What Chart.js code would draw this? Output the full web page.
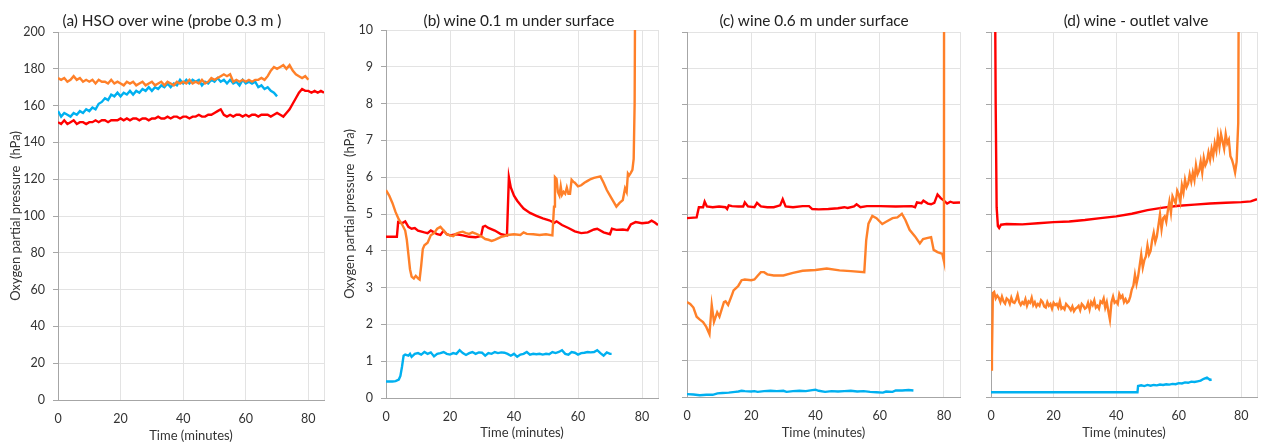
<!DOCTYPE html>
<html>
<head>
<meta charset="utf-8">
<script src="https://cdn.jsdelivr.net/npm/chart.js@4.4.1/dist/chart.umd.min.js"></script>
<style>
  html, body { margin:0; padding:0; background:#ffffff; }
  #wrap { position:relative; width:1268px; height:443px; background:#ffffff; overflow:hidden; }
  canvas { position:absolute; top:0; }
  .ttl { position:absolute; top:10px; font-family:Lato, "Open Sans", sans-serif; font-size:15.4px; color:#222; white-space:pre; transform:translateX(-50%); line-height:20px; }
</style>
</head>
<body>
<div id="wrap">
  <canvas id="ca" width="335" height="443" style="left:0px;width:335px;height:443px"></canvas>
  <canvas id="cb" width="334" height="443" style="left:335px;width:334px;height:443px"></canvas>
  <canvas id="cc" width="302" height="443" style="left:669px;width:302px;height:443px"></canvas>
  <canvas id="cd" width="297" height="443" style="left:971px;width:297px;height:443px"></canvas>
  <div class="ttl" style="left:172px">(a) HSO over wine (probe 0.3 m )</div>
  <div class="ttl" style="left:519px">(b) wine 0.1 m under surface</div>
  <div class="ttl" style="left:814px">(c) wine 0.6 m under surface</div>
  <div class="ttl" style="left:1136px">(d) wine - outlet valve</div>
</div>
<script>
// ---------- data ----------
const panelTitles = ["(a) HSO over wine (probe 0.3 m )", "(b) wine 0.1 m under surface", "(c) wine 0.6 m under surface", "(d) wine - outlet valve"];
const xTitle = "Time (minutes)";
const yTitle = "Oxygen partial pressure  (hPa)";
const xTicks = [0, 20, 40, 60, 80];
const xMax = 85;
const yTicksA = [0, 20, 40, 60, 80, 100, 120, 140, 160, 180, 200];
const yTicksB = [0, 1, 2, 3, 4, 5, 6, 7, 8, 9, 10];

// panel (a): one reading per minute
const minutes = [0,1,2,3,4,5,6,7,8,9,10,11,12,13,14,15,16,17,18,19,20,21,22,23,24,25,26,27,28,29,30,31,32,33,34,35,36,37,38,39,40,41,42,43,44,45,46,47,48,49,50,51,52,53,54,55,56,57,58,59,60,61,62,63,64,65,66,67,68,69,70,71,72,73,74,75,76,77,78,79,80,81,82,83,84,85];
const aRed = [151,150,152,150,151,152,150,151,151,150,
  151,151,152,151,152,152,151,152,152,152,
  153,152,153,152,153,153,152,153,153,152,
  153,153,154,153,153,154,153,154,154,153,
  154,154,153,154,154,155,154,154,155,155,
  156,157,158,155,154,155,154,155,155,154,
  155,154,155,155,154,155,155,155,154,155,
  156,155,154,156,158,161,164,167,169,168,
  168,167,168,167,168,167];
const aBlue = [157,154,156,155,154,156,155,157,156,158,
  157,159,158,161,162,164,163,166,165,167,
  165,167,166,168,166,168,167,169,168,170,
  168,170,169,171,170,172,170,172,171,174,
  172,174,172,174,173,174,171,173,172,174,
  173,175,173,174,172,174,172,173,171,174,
  172,173,172,173,170,171,169,170,168,167,
  165];
const aOrange = [175,174,175,173,174,176,174,175,173,174,
  173,174,172,174,173,173,172,174,172,173,
  172,171,173,172,173,171,172,173,171,172,
  173,171,172,173,171,173,172,171,173,172,
  173,172,174,172,173,172,174,172,173,175,
  174,175,176,177,176,177,173,174,173,174,
  173,174,173,174,174,175,174,176,179,181,
  180,181,182,180,182,179,177,176,175,176,
  174];

// panel (b): [minute, hPa]
const bRed = [[0,4.38],[3.4,4.38],[3.8,4.78],[5,4.75],[6,4.8],[7,4.65],[8,4.6],[9,4.62],[10,4.55],[12,4.5],[13,4.48],[14,4.55],[15,4.5],[16,4.45],[17,4.43],[18,4.55],[19,4.45],[20,4.42],[22,4.45],[24,4.42],[26,4.38],[28,4.37],[29.7,4.4],[30.3,4.65],[31,4.68],[32,4.62],[34,4.55],[36,4.45],[37.8,4.42],[38.4,6.0],[39,5.72],[40,5.5],[41,5.36],[42,5.25],[43,5.15],[45,5.03],[47,4.95],[49,4.88],[51,4.83],[52.6,4.76],[53.3,4.8],[55,4.7],[57,4.62],[59,4.53],[61,4.48],[63,4.5],[65,4.58],[66,4.6],[68,4.5],[70,4.45],[70.6,4.6],[72,4.57],[74,4.58],[75.5,4.56],[76.5,4.72],[78,4.78],[80,4.75],[82,4.77],[83,4.82],[84,4.77],[85,4.7]];
const bOrange = [[0,5.65],[1,5.5],[2,5.3],[3,5.05],[4,4.85],[5,4.72],[6,4.55],[6.5,4.3],[7,3.9],[7.5,3.5],[8,3.3],[8.7,3.25],[9.3,3.32],[10,3.25],[10.5,3.22],[11,3.6],[11.5,4.05],[12,4.15],[13,4.22],[14,4.42],[15,4.48],[16,4.6],[17,4.65],[18,4.55],[19,4.45],[20,4.42],[21,4.4],[22,4.47],[23,4.5],[24,4.52],[25,4.48],[26,4.46],[27,4.5],[28,4.47],[29,4.43],[30,4.38],[31,4.32],[32,4.3],[33,4.27],[34,4.3],[35,4.34],[36,4.38],[37,4.4],[38,4.43],[40,4.45],[42,4.43],[43,4.5],[44,4.46],[46,4.45],[48,4.43],[50,4.45],[52,4.42],[52.5,5.2],[52.8,6.0],[53.3,5.95],[53.7,5.6],[54.2,5.5],[54.6,5.75],[55,5.52],[55.5,5.6],[56,5.55],[56.5,5.72],[57,5.55],[57.5,5.55],[58,5.93],[58.5,5.88],[59,5.85],[60,5.75],[61,5.78],[62,5.85],[63,5.9],[64,5.95],[65,5.98],[66,6.0],[67,6.02],[68,5.85],[69,5.65],[70,5.5],[71,5.35],[72,5.2],[73,5.3],[74,5.38],[74.7,5.7],[75.2,5.6],[75.6,6.1],[76,6.05],[76.5,6.12],[77,6.2],[77.4,6.5],[77.7,8.0],[78,14]];
const bBlue = [[0,0.45],[1,0.45],[2,0.45],[3,0.46],[4,0.5],[4.5,0.6],[5,0.85],[5.5,1.15],[6,1.18],[7,1.15],[7.5,1.2],[8,1.12],[9,1.2],[10,1.22],[11,1.18],[12,1.25],[13,1.2],[14,1.24],[15,1.13],[16,1.2],[17,1.22],[18,1.25],[19,1.2],[20,1.18],[21,1.22],[22,1.2],[23,1.3],[24,1.22],[25,1.17],[26,1.22],[27,1.25],[28,1.2],[29,1.24],[30,1.23],[31,1.15],[32,1.22],[33,1.2],[34,1.25],[35,1.22],[36,1.24],[37,1.23],[38,1.2],[39,1.15],[40,1.2],[41,1.12],[42,1.18],[43,1.2],[44,1.25],[45,1.18],[46,1.2],[47,1.19],[48,1.2],[49,1.18],[50,1.2],[51,1.19],[52,1.25],[53,1.22],[54,1.25],[55,1.3],[56,1.2],[57,1.18],[58,1.25],[59,1.23],[60,1.18],[61,1.22],[62,1.23],[63,1.25],[64,1.24],[65,1.25],[66,1.3],[67,1.22],[68,1.15],[69,1.24],[70,1.2],[70.5,1.2]];

// panel (c): [minute, hPa]
const cRed = [[0,4.9],[3,4.92],[3.7,5.2],[5,5.2],[5.5,5.35],[6.2,5.22],[8,5.2],[10,5.22],[12,5.2],[12.5,5.15],[13,5.25],[14,5.23],[16,5.22],[17.5,5.22],[18,5.33],[19,5.22],[21,5.2],[21.8,5.32],[23,5.22],[25,5.2],[27,5.2],[29,5.25],[29.8,5.42],[30.7,5.22],[33,5.2],[36,5.23],[38,5.23],[39,5.15],[41,5.14],[44,5.15],[47,5.17],[49,5.2],[50,5.18],[52,5.22],[52.8,5.28],[54,5.2],[56,5.23],[60,5.23],[65,5.22],[70,5.23],[71,5.2],[71.6,5.33],[73,5.31],[73.6,5.38],[75,5.3],[76,5.28],[77,5.32],[78,5.55],[79,5.45],[80,5.38],[81,5.3],[82,5.35],[83,5.32],[85,5.33]];
const cOrange = [[0,2.6],[1,2.55],[2,2.45],[3,2.2],[4,2.12],[5,2.05],[6,1.92],[7,1.72],[7.7,2.52],[8.4,2.06],[9.4,2.32],[10.1,2.2],[11.5,2.6],[12,2.62],[12.8,2.52],[14,2.8],[14.5,2.92],[15.5,3.0],[16,3.05],[17,3.2],[18,3.22],[20,3.2],[21,3.22],[22,3.32],[23,3.42],[24,3.42],[25,3.36],[27,3.33],[30,3.33],[33,3.4],[36,3.46],[40,3.48],[43.5,3.52],[47.5,3.47],[51,3.45],[55.2,3.42],[55.8,4.3],[56.5,4.75],[57.7,4.96],[59,4.9],[60.8,4.74],[62,4.8],[64,4.9],[65.5,4.92],[66.9,5.02],[68,4.85],[69.3,4.58],[71,4.4],[72.5,4.21],[73.5,4.33],[75,4.36],[76,4.38],[76.8,4.03],[78,3.97],[79.5,3.92],[80,3.72],[80.05,14]];
const cBlue = [[0,0.08],[2,0.07],[4,0.05],[6,0.06],[8,0.06],[9.5,0.1],[11,0.11],[13,0.12],[15,0.14],[16,0.15],[17,0.17],[18,0.16],[20,0.15],[21,0.16],[22,0.14],[24,0.16],[26,0.17],[28,0.16],[30,0.17],[31,0.14],[33,0.16],[35,0.17],[37,0.16],[39,0.19],[40,0.2],[41,0.17],[43,0.14],[45,0.16],[47,0.15],[49,0.16],[51,0.17],[53,0.15],[55,0.16],[57,0.14],[59,0.13],[61,0.12],[62,0.15],[64,0.14],[65,0.18],[67,0.18],[69,0.19],[70.5,0.18]];

// panel (d): [minute, hPa]
const dRed = [[1.1,14],[1.5,8],[1.8,5.2],[2.2,4.68],[2.6,4.63],[3.2,4.72],[5,4.74],[10,4.73],[15,4.76],[20,4.79],[25,4.81],[30,4.85],[35,4.9],[40,4.95],[45,5.02],[50,5.12],[55,5.19],[60,5.24],[65,5.27],[70,5.3],[75,5.32],[80,5.34],[83,5.36],[85,5.42]];
const dOrange = [[0,0.75],[0.3,1.1],[0.6,2.85],
  [1,2.88],[1.5,2.7],[2,2.78],[2.5,2.72],[3,2.6],[3.5,2.75],[4,2.62],[4.5,2.56],[5,2.7],[5.5,2.66],
  [6,2.55],[6.5,2.72],[7,2.6],[7.5,2.58],[8,2.66],[8.5,2.8],[9,2.6],[9.5,2.52],[10,2.6],[10.5,2.55],
  [11,2.68],[11.5,2.5],[12,2.62],[12.5,2.58],[13,2.72],[13.5,2.52],[14,2.6],[14.5,2.48],[15,2.55],[15.5,2.5],
  [16,2.65],[16.5,2.6],[17,2.48],[17.5,2.45],[18,2.6],[18.5,2.5],[19,2.55],[19.5,2.42],[20,2.58],[20.5,2.52],
  [21,2.55],[21.5,2.45],[22,2.62],[22.5,2.42],[23,2.46],[23.5,2.4],[24,2.55],[24.5,2.5],[25,2.45],[25.5,2.38],
  [26,2.48],[26.5,2.35],[27,2.42],[27.5,2.45],[28,2.5],[28.5,2.38],[29,2.55],[29.5,2.5],[30,2.42],[30.5,2.45],
  [31,2.58],[31.5,2.4],[32,2.6],[32.5,2.52],[33,2.65],[33.5,2.45],[34,2.5],[34.5,2.42],[35,2.62],[35.5,2.58],
  [36,2.7],[36.5,2.45],[37,2.6],[37.5,2.35],[38,2.12],[38.5,2.6],[39,2.75],[39.5,2.58],[40,2.62],[40.5,2.55],
  [41,2.82],[41.5,2.72],[42,2.78],[42.5,2.6],[43,2.68],[43.5,2.58],[44,2.62],[44.5,2.75],[45,2.95],[45.5,3.05],
  [46,3.35],[46.5,3.1],[47,3.3],[47.5,3.6],[48,3.9],[48.5,3.55],[49,3.75],[49.5,3.85],[50,4.15],[50.5,3.9],
  [51,4.0],[51.5,4.3],[52,4.5],[52.5,4.25],[53,4.4],[53.5,4.7],[54,5.0],[54.5,4.6],[55,4.9],[55.5,4.95],
  [56,4.8],[56.5,5.1],[57,5.35],[57.5,5.05],[58,5.5],[58.5,5.4],[59,5.3],[59.5,5.65],[60,5.55],[60.5,5.35],
  [61,5.8],[61.5,5.6],[62,5.95],[62.5,5.75],[63,5.85],[63.5,6.1],[64,5.9],[64.5,6.15],[65,5.95],[65.5,6.35],
  [66,6.1],[66.5,6.2],[67,6.45],[67.5,6.15],[68,6.55],[68.5,6.35],[69,6.45],[69.5,6.7],[70,6.5],[70.5,6.8],
  [71,6.6],[71.5,6.95],[72,6.75],[72.5,7.15],[73,6.85],[73.5,7.2],[74,7.0],[74.5,6.8],[75,7.2],[75.5,6.95],
  [76,7.05],[76.5,6.6],[77,6.5],[77.5,6.35],[78,6.15],[78.5,6.45],[79,7.5],[79.3,14]];
const dBlue = [[0,0.13],[10,0.13],[20,0.13],[30,0.13],[40,0.13],[46.8,0.13],[47,0.3],[48,0.32],[49,0.3],[50,0.33],[51,0.31],[52,0.33],[53,0.32],[54,0.34],[55,0.33],[56,0.35],[57,0.34],[58,0.36],[59,0.35],[60,0.38],[61,0.37],[62,0.4],[63,0.39],[64,0.42],[65,0.41],[66,0.43],[67,0.45],[68,0.5],[69,0.53],[69.5,0.5],[70,0.47],[70.5,0.48]];

// ---------- style ----------
const RED = '#ff0000', ORANGE = '#ff8029', BLUE = '#00b0f0';
const FONT = 'Lato, "Open Sans", sans-serif';
const GRID = '#e3e3e3', AXIS = '#a6a6a6', TXT = '#333333';

function pairs(arr) { return arr.map(p => ({x: p[0], y: p[1]})); }
function byMinute(vals) { return vals.map((v, i) => ({x: minutes[i], y: v})); }
function ds(label, data, color) {
  return { label, data, borderColor: color, backgroundColor: color, borderWidth: 2.4,
           pointRadius: 0, pointHoverRadius: 0, tension: 0, fill: false };
}

function makeChart(id, cfg) {
  const yT = cfg.yTicks;
  new Chart(document.getElementById(id), {
    type: 'line',
    data: { datasets: cfg.datasets },
    options: {
      responsive: false, animation: false, parsing: true, normalized: true,
      events: [],
      layout: { padding: { left: 0, right: cfg.padRight, top: cfg.top, bottom: 0 } },
      plugins: { legend: { display: false }, tooltip: { enabled: false }, title: { display: false } },
      scales: {
        x: {
          type: 'linear', min: 0, max: xMax,
          afterBuildTicks: (s) => { s.ticks = xTicks.concat([xMax]).map(v => ({value: v})); },
          afterFit: (s) => { s.height = cfg.xHeight; },
          grid: { color: GRID, lineWidth: 1, drawTicks: false },
          border: { color: AXIS, width: 1 },
          ticks: { padding: 11, color: TXT, font: { family: FONT, size: 12.5 }, maxRotation: 0,
                   callback: (v) => (xTicks.includes(v) ? String(v) : '') },
          title: { display: true, text: xTitle, color: TXT, font: { family: FONT, size: 13 },
                   padding: { top: 0, bottom: cfg.xTitlePad } }
        },
        y: {
          type: 'linear', min: yT[0], max: yT[yT.length - 1],
          afterBuildTicks: (s) => { s.ticks = yT.map(v => ({value: v})); },
          afterFit: (s) => { s.width = cfg.yWidth; },
          grid: { color: GRID, lineWidth: 1, drawTicks: true, tickLength: 5, tickColor: AXIS },
          border: { color: AXIS, width: 1 },
          ticks: { display: cfg.yLabels, padding: 8, color: TXT, font: { family: FONT, size: 12.5 } },
          title: { display: cfg.yLabels, text: yTitle, color: TXT, font: { family: FONT, size: 13 },
                   padding: { top: cfg.yTitlePad, bottom: 0 } }
        }
      }
    }
  });
}

makeChart('ca', { yTicks: yTicksA, yLabels: true, yWidth: 58, padRight: 5, top: 32, xHeight: 43, xTitlePad: -1, yTitlePad: 8,
  datasets: [ds('orange', byMinute(aOrange), ORANGE), ds('blue', byMinute(aBlue), BLUE), ds('red', byMinute(aRed), RED)] });
makeChart('cb', { yTicks: yTicksB, yLabels: true, yWidth: 51, padRight: 5, top: 30, xHeight: 45, xTitlePad: 2, yTitlePad: 7,
  datasets: [ds('orange', pairs(bOrange), ORANGE), ds('red', pairs(bRed), RED), ds('blue', pairs(bBlue), BLUE)] });
makeChart('cc', { yTicks: yTicksB, yLabels: false, yWidth: 18, padRight: 5, top: 32, xHeight: 46, xTitlePad: 2, yTitlePad: 0,
  datasets: [ds('orange', pairs(cOrange), ORANGE), ds('red', pairs(cRed), RED), ds('blue', pairs(cBlue), BLUE)] });
makeChart('cd', { yTicks: yTicksB, yLabels: false, yWidth: 20, padRight: 0, top: 32, xHeight: 46, xTitlePad: 2, yTitlePad: 0,
  datasets: [ds('orange', pairs(dOrange), ORANGE), ds('red', pairs(dRed), RED), ds('blue', pairs(dBlue), BLUE)] });
</script>
</body>
</html>
